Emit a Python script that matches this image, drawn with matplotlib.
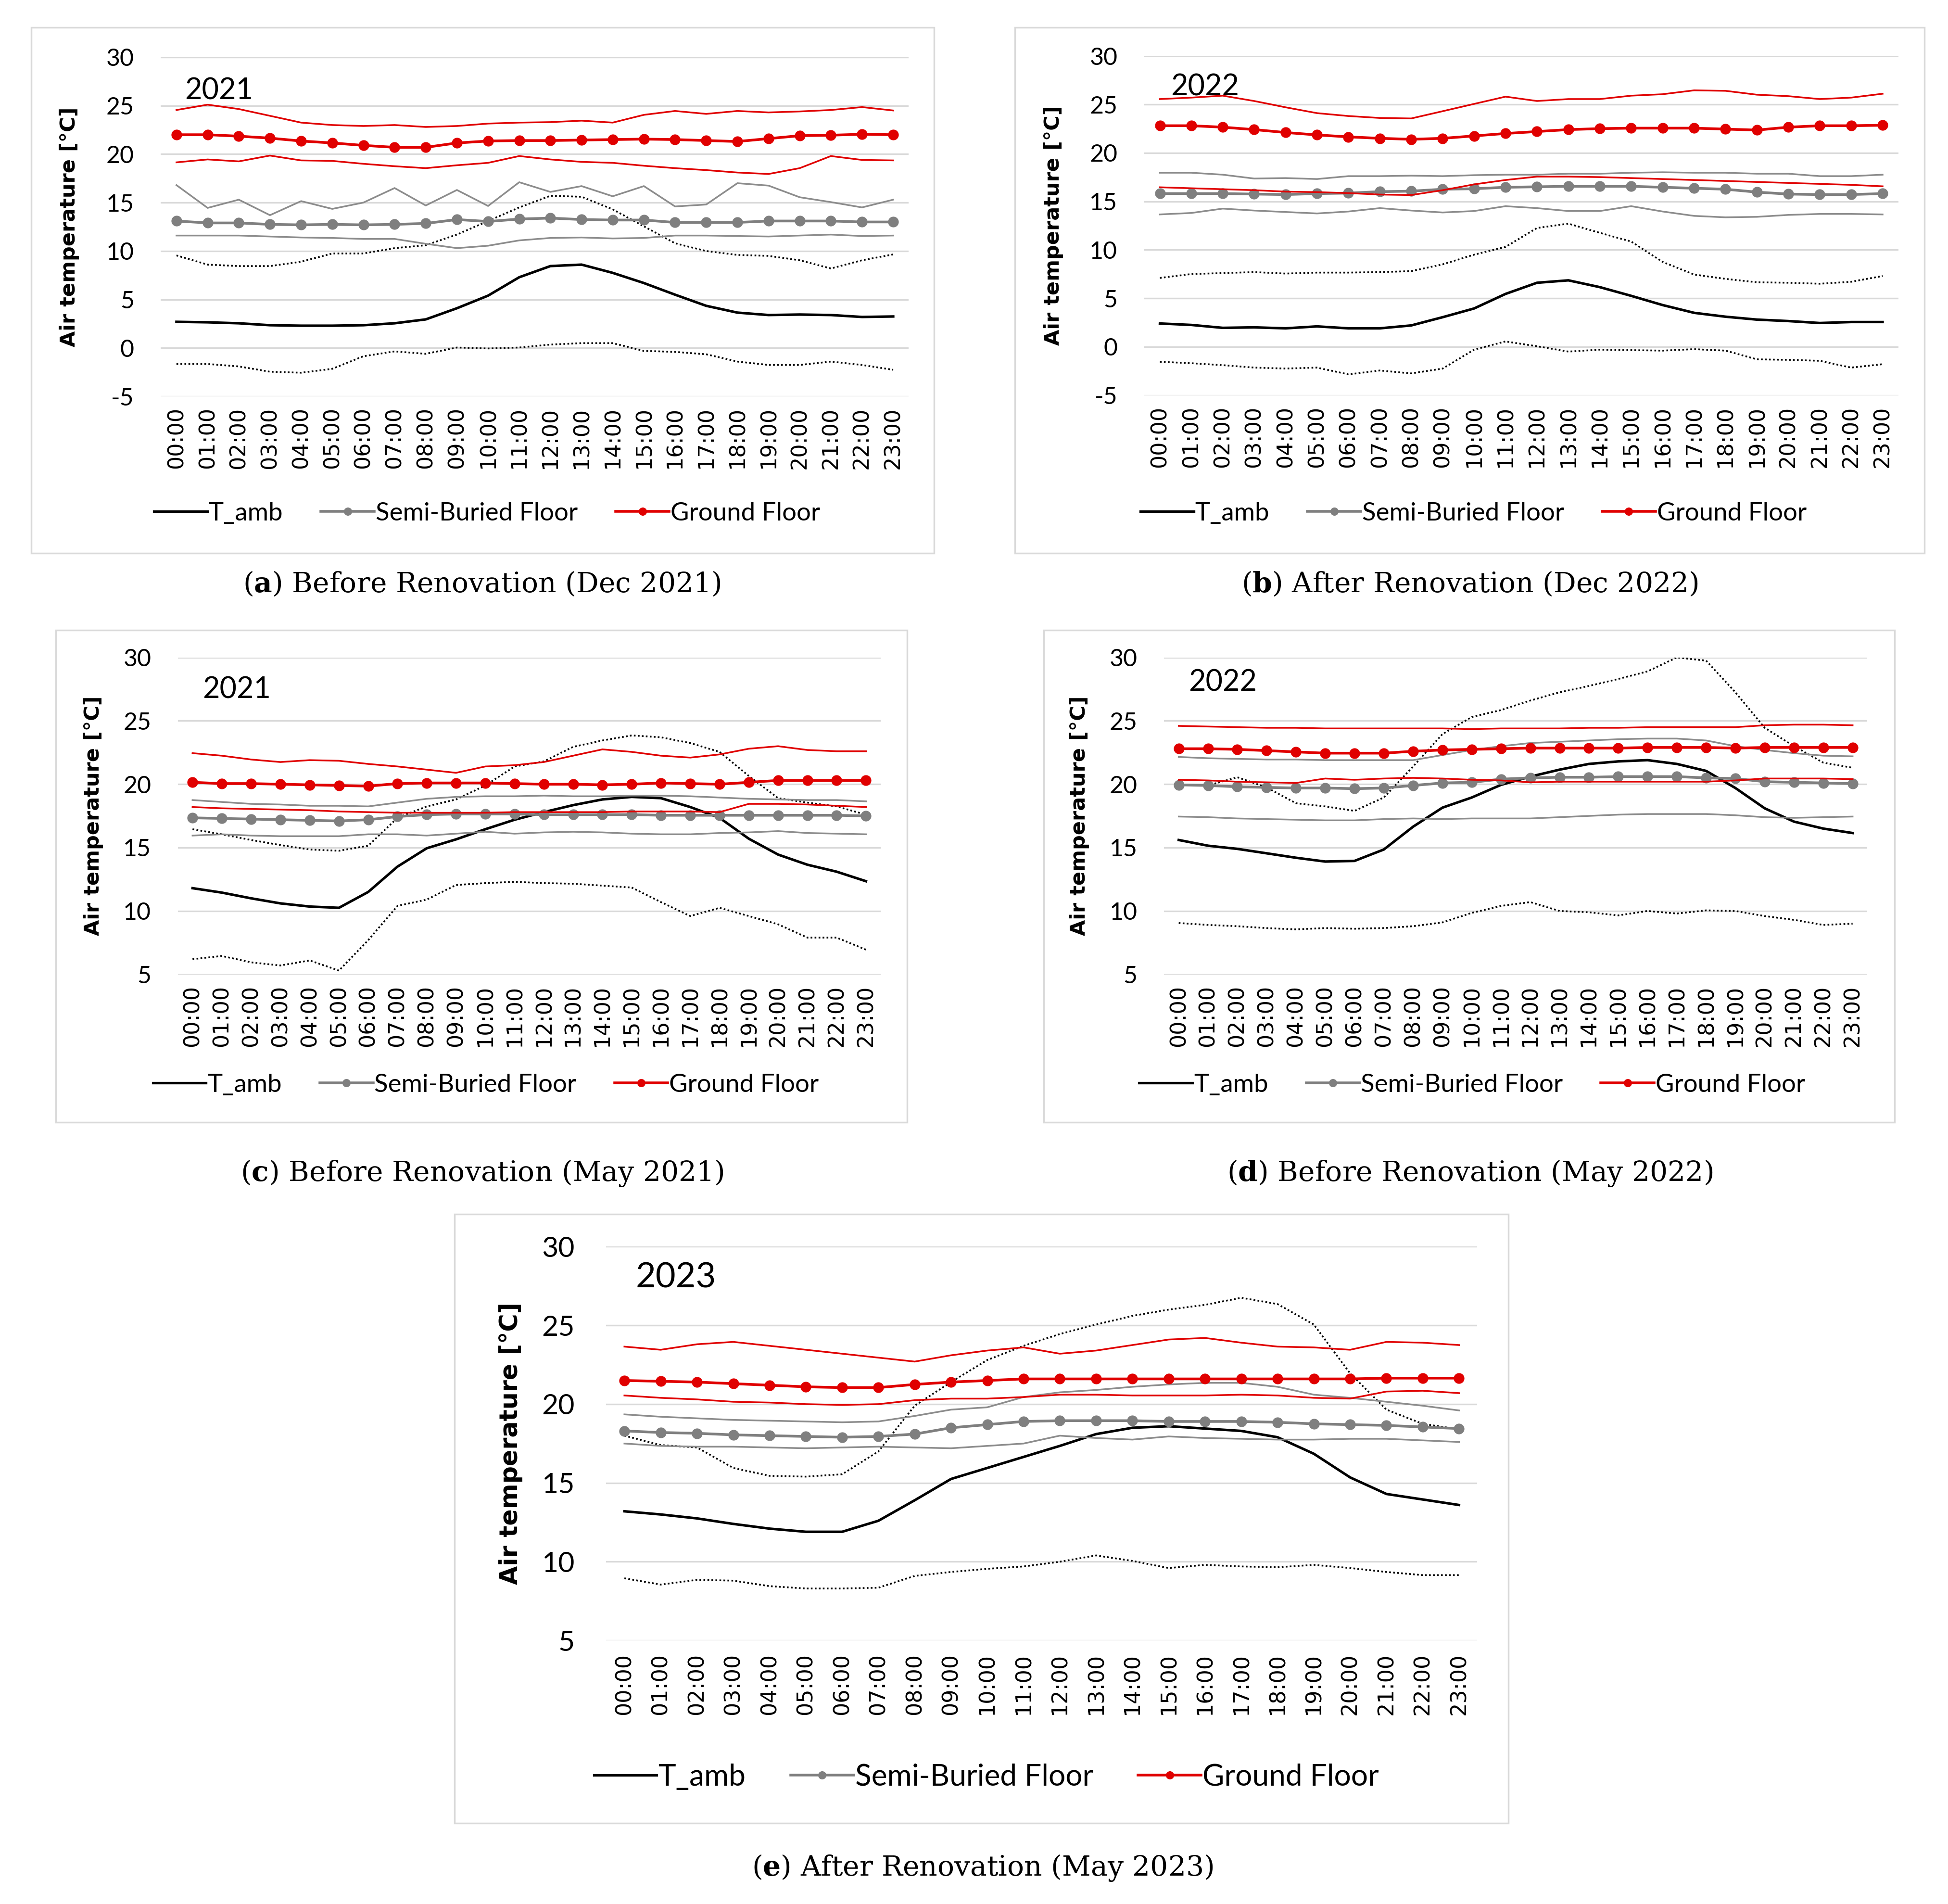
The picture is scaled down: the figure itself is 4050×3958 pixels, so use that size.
import matplotlib
matplotlib.use("Agg")
import matplotlib.pyplot as plt
from matplotlib.patches import Rectangle

plt.rcParams['axes.unicode_minus'] = False
plt.rcParams['mathtext.fontset'] = 'dejavuserif'

hours = [f"{h:02d}:00" for h in range(24)]

# (a) December 2021, before renovation
a_tamb = [2.7, 2.65, 2.55, 2.35, 2.3, 2.3, 2.35, 2.55, 2.95, 4.1, 5.4, 7.3, 8.45, 8.6, 7.75, 6.7, 5.5, 4.35, 3.65, 3.4, 3.45, 3.4, 3.2, 3.25]
a_tamb_max = [9.55, 8.6, 8.45, 8.45, 8.9, 9.75, 9.75, 10.3, 10.6, 11.7, 13.1, 14.5, 15.7, 15.6, 14.3, 12.55, 10.8, 10.0, 9.6, 9.5, 9.05, 8.2, 9.05, 9.65]
a_tamb_min = [-1.65, -1.65, -1.9, -2.45, -2.55, -2.15, -0.85, -0.35, -0.6, 0.05, -0.05, 0.05, 0.35, 0.5, 0.5, -0.3, -0.4, -0.65, -1.4, -1.75, -1.75, -1.4, -1.75, -2.25]
a_semi = [13.1, 12.9, 12.9, 12.75, 12.7, 12.75, 12.7, 12.75, 12.85, 13.25, 13.05, 13.3, 13.4, 13.25, 13.2, 13.2, 12.95, 12.95, 12.95, 13.1, 13.1, 13.1, 13.0, 13.0]
a_semi_max = [16.8, 14.45, 15.3, 13.7, 15.15, 14.35, 15.0, 16.5, 14.7, 16.3, 14.65, 17.1, 16.1, 16.7, 15.65, 16.7, 14.6, 14.8, 17.0, 16.75, 15.55, 15.05, 14.5, 15.3]
a_semi_min = [11.6, 11.6, 11.6, 11.5, 11.4, 11.35, 11.25, 11.25, 10.75, 10.3, 10.55, 11.1, 11.35, 11.4, 11.3, 11.35, 11.6, 11.6, 11.55, 11.5, 11.6, 11.7, 11.55, 11.6]
a_ground = [22.0, 22.0, 21.85, 21.65, 21.35, 21.15, 20.9, 20.7, 20.7, 21.15, 21.35, 21.4, 21.4, 21.45, 21.5, 21.55, 21.5, 21.4, 21.3, 21.6, 21.9, 21.95, 22.05, 22.0]
a_ground_max = [24.55, 25.1, 24.65, 23.95, 23.25, 23.0, 22.9, 23.0, 22.8, 22.9, 23.15, 23.25, 23.3, 23.45, 23.25, 24.05, 24.45, 24.15, 24.45, 24.3, 24.4, 24.55, 24.85, 24.5]
a_ground_min = [19.15, 19.45, 19.25, 19.85, 19.35, 19.3, 19.0, 18.75, 18.55, 18.85, 19.1, 19.8, 19.45, 19.2, 19.1, 18.8, 18.55, 18.35, 18.1, 17.95, 18.55, 19.8, 19.4, 19.35]

# (b) December 2022, after renovation
b_tamb = [2.4, 2.25, 1.95, 2.0, 1.9, 2.1, 1.9, 1.9, 2.2, 3.05, 3.95, 5.45, 6.6, 6.85, 6.15, 5.25, 4.3, 3.5, 3.1, 2.8, 2.65, 2.45, 2.55, 2.55]
b_tamb_max = [7.1, 7.5, 7.6, 7.7, 7.55, 7.65, 7.65, 7.7, 7.8, 8.5, 9.5, 10.3, 12.25, 12.7, 11.75, 10.85, 8.75, 7.45, 7.0, 6.65, 6.6, 6.5, 6.7, 7.3]
b_tamb_min = [-1.55, -1.7, -1.9, -2.15, -2.25, -2.15, -2.85, -2.45, -2.75, -2.25, -0.3, 0.55, 0.05, -0.5, -0.3, -0.35, -0.4, -0.25, -0.4, -1.3, -1.35, -1.45, -2.15, -1.8]
b_semi = [15.8, 15.8, 15.8, 15.75, 15.7, 15.8, 15.85, 16.0, 16.05, 16.25, 16.3, 16.45, 16.5, 16.55, 16.55, 16.55, 16.45, 16.35, 16.25, 15.95, 15.75, 15.7, 15.7, 15.8]
b_semi_max = [17.95, 17.95, 17.75, 17.35, 17.4, 17.3, 17.6, 17.6, 17.65, 17.6, 17.7, 17.75, 17.75, 17.85, 17.85, 17.95, 18.0, 17.95, 17.95, 17.85, 17.85, 17.6, 17.6, 17.75]
b_semi_min = [13.65, 13.8, 14.25, 14.05, 13.9, 13.75, 13.95, 14.3, 14.05, 13.85, 14.0, 14.5, 14.3, 14.0, 14.0, 14.5, 13.95, 13.5, 13.35, 13.4, 13.6, 13.7, 13.7, 13.65]
b_ground = [22.8, 22.8, 22.65, 22.4, 22.1, 21.85, 21.65, 21.5, 21.4, 21.5, 21.75, 22.0, 22.2, 22.4, 22.5, 22.55, 22.55, 22.55, 22.45, 22.35, 22.65, 22.8, 22.8, 22.85]
b_ground_max = [25.55, 25.7, 25.9, 25.35, 24.7, 24.1, 23.8, 23.6, 23.55, 24.3, 25.05, 25.8, 25.35, 25.55, 25.55, 25.9, 26.05, 26.45, 26.4, 26.0, 25.85, 25.55, 25.7, 26.1]
b_ground_min = [16.45, 16.35, 16.25, 16.15, 16.0, 15.95, 15.85, 15.7, 15.65, 16.15, 16.75, 17.2, 17.55, 17.55, 17.5, 17.4, 17.3, 17.2, 17.1, 17.0, 16.9, 16.8, 16.7, 16.55]

# (c) May 2021, before renovation
c_tamb = [11.8, 11.45, 11.0, 10.6, 10.35, 10.25, 11.5, 13.5, 14.95, 15.65, 16.45, 17.2, 17.8, 18.35, 18.8, 19.0, 18.9, 18.2, 17.35, 15.7, 14.45, 13.65, 13.1, 12.35]
c_tamb_max = [16.45, 16.05, 15.6, 15.2, 14.85, 14.75, 15.15, 17.35, 18.25, 18.8, 19.9, 21.4, 21.8, 22.95, 23.45, 23.85, 23.7, 23.25, 22.55, 20.65, 18.9, 18.55, 18.25, 17.6]
c_tamb_min = [6.2, 6.45, 5.95, 5.7, 6.1, 5.3, 7.7, 10.4, 10.9, 12.05, 12.2, 12.3, 12.2, 12.15, 12.0, 11.85, 10.7, 9.6, 10.25, 9.6, 8.95, 7.9, 7.9, 6.95]
c_semi = [17.35, 17.3, 17.25, 17.2, 17.15, 17.1, 17.2, 17.45, 17.6, 17.65, 17.65, 17.65, 17.6, 17.6, 17.6, 17.6, 17.55, 17.55, 17.55, 17.55, 17.55, 17.55, 17.55, 17.5]
c_semi_max = [18.75, 18.6, 18.45, 18.4, 18.3, 18.3, 18.25, 18.55, 18.85, 19.0, 19.05, 19.05, 19.1, 19.05, 19.05, 19.1, 19.1, 19.05, 18.95, 18.85, 18.8, 18.75, 18.75, 18.65]
c_semi_min = [15.95, 16.05, 15.95, 15.9, 15.9, 15.9, 16.05, 16.05, 15.95, 16.1, 16.25, 16.1, 16.2, 16.25, 16.2, 16.1, 16.05, 16.05, 16.15, 16.2, 16.3, 16.15, 16.1, 16.05]
c_ground = [20.15, 20.05, 20.05, 20.0, 19.95, 19.9, 19.85, 20.05, 20.1, 20.1, 20.1, 20.05, 20.0, 20.0, 19.95, 20.0, 20.1, 20.05, 20.0, 20.15, 20.3, 20.3, 20.3, 20.3]
c_ground_max = [22.45, 22.25, 21.95, 21.75, 21.9, 21.85, 21.6, 21.4, 21.15, 20.9, 21.4, 21.5, 21.75, 22.25, 22.75, 22.55, 22.25, 22.1, 22.35, 22.8, 23.0, 22.7, 22.6, 22.6]
c_ground_min = [18.2, 18.1, 18.05, 18.0, 17.95, 17.85, 17.8, 17.75, 17.75, 17.75, 17.75, 17.8, 17.8, 17.8, 17.8, 17.85, 17.85, 17.85, 17.8, 18.45, 18.45, 18.4, 18.3, 18.2]

# (d) May 2022, before renovation
d_tamb = [15.6, 15.15, 14.9, 14.55, 14.2, 13.9, 13.95, 14.85, 16.65, 18.15, 18.95, 19.95, 20.6, 21.15, 21.6, 21.8, 21.9, 21.6, 21.05, 19.7, 18.1, 17.05, 16.5, 16.15]
d_tamb_max = [19.95, 19.9, 20.55, 19.75, 18.5, 18.25, 17.9, 18.95, 21.4, 23.95, 25.3, 25.85, 26.6, 27.25, 27.75, 28.3, 28.9, 30.0, 29.75, 27.25, 24.45, 23.0, 21.7, 21.3]
d_tamb_min = [9.05, 8.9, 8.8, 8.65, 8.55, 8.65, 8.6, 8.65, 8.8, 9.1, 9.85, 10.4, 10.7, 10.0, 9.9, 9.65, 10.0, 9.8, 10.05, 10.0, 9.6, 9.3, 8.9, 9.0]
d_semi = [19.95, 19.9, 19.8, 19.75, 19.7, 19.7, 19.65, 19.7, 19.9, 20.1, 20.15, 20.4, 20.5, 20.55, 20.55, 20.6, 20.6, 20.6, 20.5, 20.45, 20.2, 20.15, 20.1, 20.05]
d_semi_max = [22.15, 22.05, 22.0, 21.95, 21.95, 21.9, 21.9, 21.9, 21.9, 22.3, 22.7, 23.0, 23.25, 23.35, 23.45, 23.55, 23.6, 23.6, 23.45, 23.0, 22.7, 22.45, 22.25, 22.2]
d_semi_min = [17.45, 17.4, 17.3, 17.25, 17.2, 17.15, 17.15, 17.25, 17.3, 17.25, 17.3, 17.3, 17.3, 17.4, 17.5, 17.6, 17.65, 17.65, 17.65, 17.55, 17.4, 17.35, 17.4, 17.45]
d_ground = [22.8, 22.8, 22.75, 22.65, 22.55, 22.45, 22.45, 22.45, 22.6, 22.7, 22.75, 22.8, 22.85, 22.85, 22.85, 22.85, 22.9, 22.9, 22.9, 22.85, 22.9, 22.9, 22.9, 22.9]
d_ground_max = [24.6, 24.55, 24.5, 24.45, 24.45, 24.4, 24.4, 24.4, 24.4, 24.4, 24.35, 24.4, 24.4, 24.4, 24.45, 24.45, 24.5, 24.5, 24.5, 24.5, 24.65, 24.7, 24.7, 24.65]
d_ground_min = [20.35, 20.3, 20.2, 20.15, 20.1, 20.45, 20.35, 20.45, 20.5, 20.45, 20.35, 20.3, 20.15, 20.2, 20.2, 20.2, 20.2, 20.2, 20.2, 20.3, 20.45, 20.45, 20.45, 20.4]

# (e) May 2023, after renovation
e_tamb = [13.2, 13.0, 12.75, 12.4, 12.1, 11.9, 11.9, 12.6, 13.9, 15.25, 15.95, 16.65, 17.35, 18.1, 18.5, 18.6, 18.45, 18.3, 17.9, 16.85, 15.35, 14.3, 13.95, 13.6]
e_tamb_max = [18.0, 17.4, 17.25, 15.95, 15.45, 15.4, 15.55, 17.0, 19.9, 21.4, 22.8, 23.7, 24.45, 25.05, 25.6, 26.0, 26.3, 26.75, 26.35, 25.05, 21.95, 19.65, 18.75, 18.4]
e_tamb_min = [8.95, 8.55, 8.85, 8.8, 8.45, 8.3, 8.3, 8.35, 9.1, 9.35, 9.55, 9.7, 10.0, 10.4, 10.05, 9.6, 9.8, 9.7, 9.65, 9.8, 9.6, 9.35, 9.15, 9.15]
e_semi = [18.3, 18.2, 18.15, 18.05, 18.0, 17.95, 17.9, 17.95, 18.1, 18.5, 18.7, 18.9, 18.95, 18.95, 18.95, 18.9, 18.9, 18.9, 18.85, 18.75, 18.7, 18.65, 18.55, 18.45]
e_semi_max = [19.35, 19.2, 19.1, 19.0, 18.95, 18.9, 18.85, 18.9, 19.25, 19.65, 19.8, 20.45, 20.75, 20.9, 21.1, 21.25, 21.35, 21.35, 21.1, 20.6, 20.4, 20.15, 19.9, 19.6]
e_semi_min = [17.5, 17.35, 17.3, 17.3, 17.25, 17.2, 17.25, 17.3, 17.25, 17.2, 17.35, 17.5, 18.0, 17.85, 17.75, 17.95, 17.85, 17.8, 17.75, 17.75, 17.8, 17.8, 17.7, 17.6]
e_ground = [21.5, 21.45, 21.4, 21.3, 21.2, 21.1, 21.05, 21.05, 21.25, 21.4, 21.5, 21.6, 21.6, 21.6, 21.6, 21.6, 21.6, 21.6, 21.6, 21.6, 21.6, 21.65, 21.65, 21.65]
e_ground_max = [23.65, 23.45, 23.8, 23.95, 23.7, 23.45, 23.2, 22.95, 22.7, 23.1, 23.4, 23.6, 23.2, 23.4, 23.75, 24.1, 24.2, 23.9, 23.65, 23.6, 23.45, 23.95, 23.9, 23.75]
e_ground_min = [20.55, 20.4, 20.3, 20.15, 20.1, 20.0, 19.95, 20.0, 20.25, 20.35, 20.35, 20.45, 20.6, 20.6, 20.55, 20.55, 20.55, 20.6, 20.55, 20.4, 20.35, 20.8, 20.85, 20.7]

W, H = 1568.0, 1532.0  # layout grid (reference screen units)

fig = plt.figure(figsize=(40.5, 39.58), dpi=100)
fig.patch.set_facecolor('white')

RED = '#e00000'
GREY = '#7f7f7f'
GREY_THIN = '#8c8c8c'


def box(x0, y0, x1, y1):
    fig.patches.append(Rectangle((x0 / W, 1 - y1 / H), (x1 - x0) / W, (y1 - y0) / H,
                                 transform=fig.transFigure, fill=False,
                                 edgecolor='#d9d9d9', linewidth=2.5))


def panel(rect, series, ylim, year, year_pos, ylab_x, leg_xy, caption, cap_xy, scale=1.0):
    x0, x1, y0, y1 = rect
    ax = fig.add_axes([x0 / W, 1 - y1 / H, (x1 - x0) / W, (y1 - y0) / H])
    tamb, tmax, tmin, semi, smax, smin, gr, gmax, gmin = series
    x = range(len(hours))
    ax.plot(x, tmax, color='black', lw=2.6, ls=(0, (1, 1.3)))
    ax.plot(x, tmin, color='black', lw=2.6, ls=(0, (1, 1.3)))
    ax.plot(x, tamb, color='black', lw=3.8, label='T_amb')
    ax.plot(x, smax, color=GREY_THIN, lw=2.5)
    ax.plot(x, smin, color=GREY_THIN, lw=2.5)
    ax.plot(x, semi, color=GREY, lw=4.0, marker='o', ms=15, label='Semi-Buried Floor')
    ax.plot(x, gmax, color=RED, lw=2.5)
    ax.plot(x, gmin, color=RED, lw=2.5)
    ax.plot(x, gr, color=RED, lw=4.0, marker='o', ms=15, label='Ground Floor')

    ax.set_xlim(-0.5, len(hours) - 0.5)
    ax.set_xticks(list(x))
    ax.set_xticklabels(hours, rotation=90, fontsize=32, family='DejaVu Sans')
    ax.set_ylim(*ylim)
    ax.set_yticks(range(ylim[0], ylim[1] + 1, 5))
    for t in ax.get_yticklabels():
        t.set_fontsize(36 * scale)
        t.set_family('Lato')
    ax.tick_params(axis='y', length=0, pad=40 * scale)
    ax.tick_params(axis='x', length=0, pad=16 * scale)
    ax.grid(axis='y', color='#d9d9d9', lw=2.4)
    ax.set_axisbelow(True)
    for s in ax.spines.values():
        s.set_visible(False)
    ax.set_ylabel('Air temperature [°C]', fontsize=31 * scale, fontweight='bold',
                  family='DejaVu Sans')
    ax.yaxis.set_label_coords(ylab_x, 0.5)
    ax.text(year_pos[0], year_pos[1], year, transform=ax.transAxes, ha='left',
            va='center', fontsize=44 * scale, family='Lato')
    fig.legend(handles=ax.get_lines()[2::3], loc='center',
               bbox_to_anchor=(leg_xy[0] / W, 1 - leg_xy[1] / H), ncol=3,
               frameon=False, prop={'family': 'Lato', 'size': 38 * scale},
               handlelength=2.1, handletextpad=0.05, columnspacing=1.5,
               markerscale=0.75)
    fig.text(cap_xy[0] / W, 1 - cap_xy[1] / H, caption, ha='center', va='center',
             fontsize=42, family='DejaVu Serif')
    return ax


box(25, 22, 752, 445)
box(817, 22, 1549, 445)
box(45, 507, 730, 903)
box(840, 507, 1525, 903)
box(366, 977, 1214, 1467)

panel((129.5, 731.5, 46, 319),
      (a_tamb, a_tamb_max, a_tamb_min, a_semi, a_semi_max, a_semi_min, a_ground, a_ground_max, a_ground_min),
      (-5, 30), '2021', (0.032, 0.901), -0.109, (392, 413),
      r'($\mathbf{a}$) Before Renovation (Dec 2021)', (388, 470))
panel((921, 1528, 45, 318),
      (b_tamb, b_tamb_max, b_tamb_min, b_semi, b_semi_max, b_semi_min, b_ground, b_ground_max, b_ground_min),
      (-5, 30), '2022', (0.035, 0.908), -0.107, (1186, 413),
      r'($\mathbf{b}$) After Renovation (Dec 2022)', (1183, 470))
panel((143.2, 708.8, 529, 784),
      (c_tamb, c_tamb_max, c_tamb_min, c_semi, c_semi_max, c_semi_min, c_ground, c_ground_max, c_ground_min),
      (5, 30), '2021', (0.035, 0.898), -0.106, (391, 873),
      r'($\mathbf{c}$) Before Renovation (May 2021)', (388, 944))
panel((937, 1503, 529, 784),
      (d_tamb, d_tamb_max, d_tamb_min, d_semi, d_semi_max, d_semi_min, d_ground, d_ground_max, d_ground_min),
      (5, 30), '2022', (0.035, 0.92), -0.106, (1185, 873),
      r'($\mathbf{d}$) Before Renovation (May 2022)', (1183, 944))
panel((488, 1189, 1003, 1320),
      (e_tamb, e_tamb_max, e_tamb_min, e_semi, e_semi_max, e_semi_min, e_ground, e_ground_max, e_ground_min),
      (5, 30), '2023', (0.034, 0.921), -0.0956, (794, 1430),
      r'($\mathbf{e}$) After Renovation (May 2023)', (791, 1503), scale=1.18)

fig.savefig('out.png', dpi=100, facecolor='white')
